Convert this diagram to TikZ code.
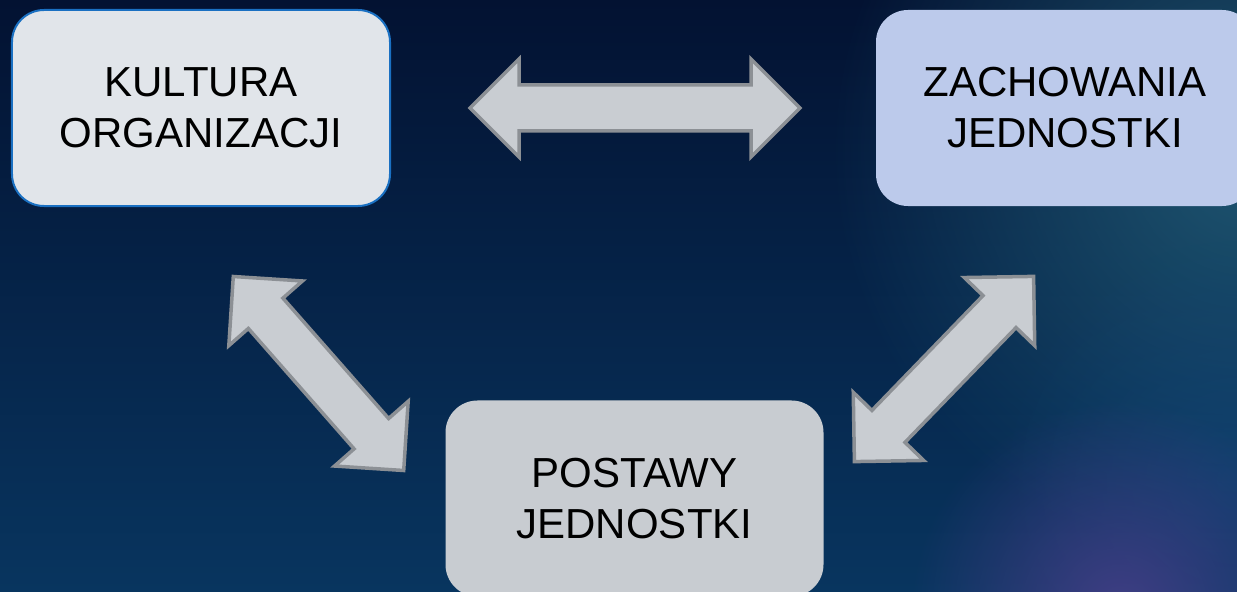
\documentclass[tikz,border=0pt]{standalone}
\usepackage{fontspec}
\setmainfont{Liberation Sans}
\usetikzlibrary{calc,fadings}
\definecolor{bgtop}{HTML}{031232}
\definecolor{bgbot}{HTML}{08355F}
\definecolor{tealglow}{HTML}{23607A}
\definecolor{purpglow}{HTML}{4A3F8A}
\definecolor{blueglow}{HTML}{144A86}
\definecolor{boxA}{HTML}{E1E5EA}
\definecolor{boxB}{HTML}{BCCAEB}
\definecolor{boxC}{HTML}{C8CCD1}
\definecolor{boxborder}{HTML}{1A70C2}
\definecolor{arrfill}{HTML}{C9CDD2}
\definecolor{arrdraw}{HTML}{8C9095}
\tikzfading[name=glowfade, inner color=transparent!0, outer color=transparent!100]
\tikzset{
  box/.style={rounded corners=32bp, minimum width=378bp, minimum height=196bp,
    inner sep=0pt, align=center, text=black,
    font=\fontsize{42bp}{51bp}\selectfont},
  blockarrow/.style={fill=arrfill, draw=arrdraw, line width=3.5bp, line join=miter}
}
\newcommand{\dblarrow}[2]{%
  \coordinate (#1-h) at ($(#1)!49bp!(#2)$);
  \coordinate (#2-h) at ($(#2)!49bp!(#1)$);
  \draw[blockarrow] (#1) -- ($(#1-h)!49bp!90:(#2)$) -- ($(#1-h)!23bp!90:(#2)$)
    -- ($(#2-h)!23bp!-90:(#1)$) -- ($(#2-h)!49bp!-90:(#1)$) -- (#2)
    -- ($(#2-h)!49bp!90:(#1)$) -- ($(#2-h)!23bp!90:(#1)$)
    -- ($(#1-h)!23bp!-90:(#2)$) -- ($(#1-h)!49bp!-90:(#2)$) -- cycle;
}
\begin{document}
\begin{tikzpicture}[x=1bp,y=-1bp]
\useasboundingbox (0,0) rectangle (1237,592);
% background
\shade[top color=bgtop, bottom color=bgbot] (0,0) rectangle (1237,592);
\begin{scope}
\clip (0,0) rectangle (1237,592);
\fill[tealglow, path fading=glowfade, fill opacity=0.85] (1250,150) circle (420bp);
\fill[blueglow, path fading=glowfade, fill opacity=0.4] (1237,480) circle (240bp);
\fill[purpglow, path fading=glowfade, fill opacity=0.85] (1120,610) circle (210bp);
\end{scope}
% boxes
\node[box, fill=boxA, draw=boxborder, line width=2bp] (kultura) at (201,108) {KULTURA\\ORGANIZACJI};
\node[box, fill=boxB] (zach) at (1065,108) {ZACHOWANIA\\JEDNOSTKI};
\node[box, fill=boxC] (post) at (634.5,498.5) {POSTAWY\\JEDNOSTKI};
% arrow end points
\coordinate (t1) at (470,108);
\coordinate (t2) at (800,108);
\coordinate (l1) at (233.3,276.5);
\coordinate (l2) at (403.7,470.5);
\coordinate (r1) at (854.4,461.6);
\coordinate (r2) at (1033.6,276.4);
\dblarrow{t1}{t2}
\dblarrow{l1}{l2}
\dblarrow{r1}{r2}
\end{tikzpicture}
\end{document}
